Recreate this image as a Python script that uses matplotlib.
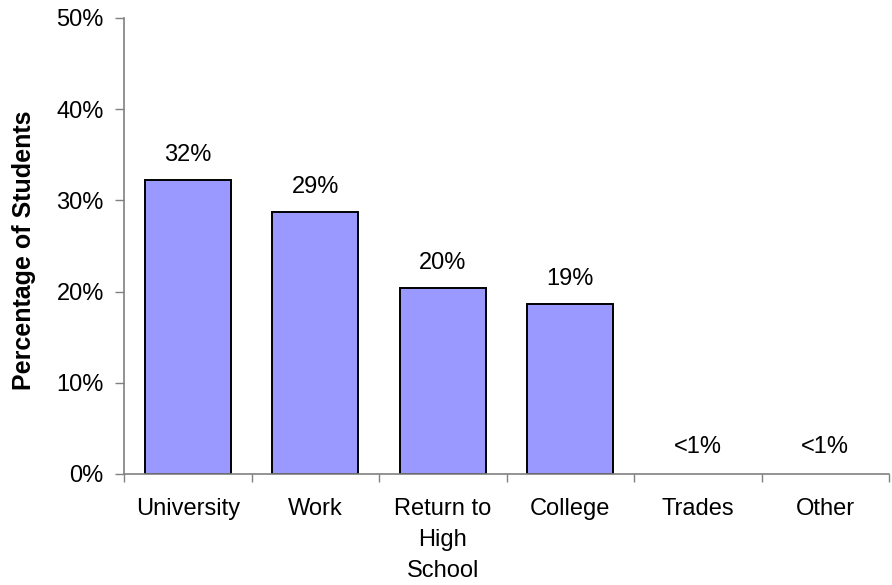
import matplotlib.pyplot as plt
import numpy as np

plt.rcParams['font.family'] = ['Liberation Sans', 'DejaVu Sans']

categories = ["University", "Work", "Return to\nHigh\nSchool", "College", "Trades", "Other"]
values = [32.2, 28.7, 20.4, 18.6, 0.0, 0.0]
value_labels = ["32%", "29%", "20%", "19%", "<1%", "<1%"]
y_ticks = [0, 10, 20, 30, 40, 50]

FS = 17

fig = plt.figure(figsize=(8.92, 5.85), dpi=100)
ax = fig.add_axes([124/892, 111/585, 765/892, 456/585])

x = np.arange(len(categories))
# no outline on the empty (<1%) bars
lws = [1.4 if v > 0 else 0 for v in values]
ax.bar(x, values, width=0.675, color='#9999FF', edgecolor='black', linewidth=lws, zorder=2)

for xi, v, lab in zip(x, values, value_labels):
    off = 25 if v > 0 else 27
    ax.annotate(lab, (xi, v), xytext=(0, off * 0.72), textcoords='offset points',
                ha='center', va='center', fontsize=FS)

ax.set_xlim(-0.5, len(categories) - 0.5)
ax.set_ylim(0, 50)
ax.set_yticks(y_ticks)
ax.set_yticklabels([f"{t}%" for t in y_ticks], fontsize=FS)
ax.set_xticks(x)
ax.set_xticklabels(categories, fontsize=FS, linespacing=1.55, va='top')
ax.set_xticks(np.arange(-0.5, len(categories)), minor=True)
ax.tick_params(axis='x', which='major', length=0, pad=17)
ax.tick_params(axis='x', which='minor', length=6, width=1, color='#808080', direction='out')
ax.tick_params(axis='y', length=6.5, width=1, color='#808080', pad=8)

for s in ['top', 'right']:
    ax.spines[s].set_visible(False)
for s in ['left', 'bottom']:
    ax.spines[s].set_color('#808080')
    ax.spines[s].set_linewidth(1.2)

ax.set_ylabel("Percentage of Students", fontsize=18, fontweight='bold')
ax.yaxis.set_label_coords(-88/765, 0.49)

plt.savefig("out.png", dpi=100)
